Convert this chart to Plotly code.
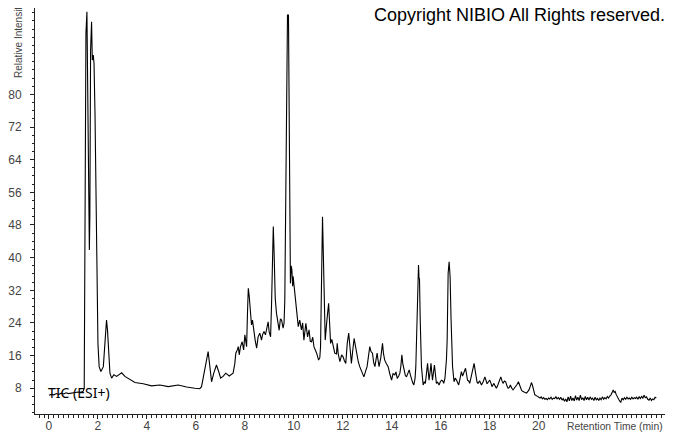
import plotly.graph_objects as go

# Retention time (min) and relative intensity
retention_time = [
    0.0, 0.1, 0.2, 0.3, 0.4, 0.5, 0.6, 0.7, 0.8, 0.9, 1.0, 1.1, 1.2, 1.3, 1.4, 1.44,
    1.47, 1.51, 1.55, 1.59, 1.62, 1.65, 1.67, 1.70, 1.74, 1.77, 1.81, 1.84, 1.88, 1.92,
    1.96, 2.0, 2.05, 2.12, 2.22, 2.30, 2.35, 2.39, 2.44, 2.49, 2.56, 2.65, 2.76, 2.97,
    3.10, 3.28, 3.51, 3.85, 4.19, 4.53, 4.87, 5.28, 5.62, 5.96, 6.16,
    6.23, 6.33, 6.44, 6.50, 6.57, 6.64, 6.73, 6.84, 6.93, 7.01, 7.11, 7.22, 7.36, 7.52,
    7.59, 7.63, 7.69, 7.73, 7.77, 7.82, 7.89, 7.95, 8.0, 8.07, 8.11, 8.14, 8.18, 8.23,
    8.27, 8.31, 8.37, 8.42, 8.48, 8.54, 8.61, 8.68, 8.72, 8.78, 8.84, 8.91, 8.95, 8.99,
    9.05, 9.09, 9.13, 9.16, 9.19, 9.24, 9.29, 9.35, 9.40, 9.45, 9.50, 9.56, 9.60, 9.63,
    9.67, 9.71, 9.74, 9.78, 9.81, 9.84, 9.86, 9.89, 9.92, 9.95, 9.97, 10.04, 10.11,
    10.18, 10.24, 10.31, 10.36, 10.41, 10.49, 10.56, 10.62, 10.67, 10.72, 10.77, 10.82,
    10.88, 10.93, 11.01, 11.06, 11.09, 11.12, 11.14, 11.17, 11.20, 11.22, 11.25, 11.28,
    11.35, 11.42, 11.46, 11.50, 11.55, 11.60, 11.67, 11.74, 11.77, 11.81, 11.85, 11.88,
    11.95, 12.01, 12.06, 12.12, 12.18, 12.24, 12.30, 12.35, 12.40, 12.46, 12.51, 12.56,
    12.63, 12.69, 12.77, 12.86, 12.93, 12.99, 13.05, 13.10, 13.15, 13.21, 13.26, 13.31,
    13.36, 13.40, 13.44, 13.48, 13.55, 13.62, 13.66, 13.71, 13.78, 13.85, 13.92, 13.99,
    14.05, 14.12, 14.17, 14.22, 14.28, 14.33, 14.37, 14.41, 14.45, 14.49, 14.55, 14.60,
    14.66, 14.71, 14.76, 14.80, 14.85, 14.90, 14.95, 14.98, 15.02, 15.05, 15.09, 15.11,
    15.13, 15.16, 15.21, 15.28, 15.33, 15.37, 15.42, 15.46, 15.49, 15.52, 15.56, 15.60,
    15.63, 15.66, 15.70, 15.74, 15.78, 15.82, 15.87, 15.93, 15.98, 16.03, 16.08, 16.12,
    16.17, 16.20, 16.23, 16.26, 16.30, 16.34, 16.36, 16.38, 16.42, 16.45, 16.48, 16.54,
    16.59, 16.64, 16.69, 16.73, 16.79, 16.84, 16.89, 16.94, 17.01, 17.05, 17.09, 17.14,
    17.18, 17.24, 17.29, 17.33, 17.36, 17.40, 17.43, 17.48, 17.52, 17.59, 17.66, 17.73,
    17.80, 17.85, 17.89, 17.95, 18.0, 18.05, 18.09, 18.16, 18.22, 18.27, 18.33, 18.38,
    18.45, 18.50, 18.54, 18.60, 18.65, 18.70, 18.75, 18.80, 18.84, 18.90, 18.95, 19.0,
    19.06, 19.12, 19.17, 19.21, 19.25, 19.30, 19.36, 19.43, 19.50, 19.55, 19.60, 19.66,
    19.70, 19.74, 19.77, 19.84, 19.90, 19.97,
    20.05, 20.1, 20.15, 20.2, 20.25, 20.3, 20.35, 20.4, 20.45, 20.5, 20.55, 20.6, 20.65,
    20.7, 20.75, 20.8, 20.85, 20.9, 20.95, 21.0, 21.05, 21.1, 21.15, 21.2, 21.25, 21.3,
    21.35, 21.4, 21.45, 21.5, 21.55, 21.6, 21.65, 21.7, 21.75, 21.8, 21.85, 21.9, 21.95,
    22.0, 22.05, 22.1, 22.15, 22.2, 22.25, 22.3, 22.35, 22.4, 22.45, 22.5, 22.55, 22.6,
    22.65, 22.7, 22.75, 22.8, 22.85, 22.9, 22.95, 23.0, 23.04, 23.08, 23.12, 23.16, 23.2,
    23.25, 23.3, 23.35, 23.4, 23.45, 23.5, 23.55, 23.6, 23.65, 23.7, 23.75, 23.8, 23.85,
    23.9, 23.95, 24.0, 24.05, 24.1, 24.15, 24.2, 24.25, 24.3, 24.35, 24.4, 24.45, 24.5,
    24.55, 24.6, 24.65, 24.7, 24.75, 24.8,
]
relative_intensity = [
    6.3, 6.5, 6.4, 6.7, 6.5, 6.8, 6.6, 6.9, 6.7, 6.8, 6.9, 7.0, 7.1, 7.0, 7.3, 8.0,
    50.0, 95.0, 100.2, 78.6, 54.1, 41.9, 50.0, 90.9, 97.8, 88.4, 89.6, 87.6, 75.4, 50.9,
    32.9, 19.0, 13.3, 12.1, 13.3, 19.8, 24.7, 22.3, 15.7, 11.7, 10.5, 11.3, 10.9, 11.8,
    10.9, 10.2, 9.4, 9.1, 8.6, 8.8, 8.4, 8.8, 8.3, 8.0, 7.9,
    8.4, 11.7, 14.9, 17.0, 13.3, 9.6, 11.7, 13.7, 12.1, 10.5, 10.9, 11.7, 11.0, 11.7,
    14.1, 16.6, 17.4, 18.2, 16.2, 18.2, 19.4, 17.4, 21.1, 18.2, 27.2, 32.5, 30.4, 27.2,
    23.5, 24.7, 21.5, 19.8, 17.8, 20.6, 21.5, 19.8, 21.1, 21.9, 21.1, 23.9, 24.3, 21.9,
    20.6, 28.8, 45.0, 47.6, 42.0, 30.0, 26.4, 24.0, 22.2, 25.0, 24.7, 22.7, 24.0, 29.6,
    50.0, 79.4, 99.4, 99.4, 67.2, 47.6, 33.7, 38.0, 37.0, 33.0, 35.4, 31.3, 26.4,
    23.1, 24.7, 22.3, 24.0, 19.8, 23.9, 20.6, 22.3, 19.5, 19.4, 20.5, 18.2,
    17.5, 16.6, 14.9, 15.5, 18.2, 35.0, 49.2, 50.0, 42.0, 36.2, 25.0, 19.8,
    24.7, 28.8, 24.0, 19.0, 20.0, 18.2, 16.6, 16.4, 19.0, 16.5, 14.9, 14.5,
    16.2, 15.7, 14.8, 14.1, 19.0, 21.5, 17.5, 14.1, 17.0, 20.2, 18.5, 16.6,
    14.5, 13.3, 12.0, 10.8, 12.2, 13.3, 16.0, 18.2, 17.0, 16.6, 14.3, 13.3,
    15.2, 16.6, 14.8, 13.3, 15.5, 19.0, 16.5, 14.9, 14.0, 13.3, 11.5, 10.0,
    11.6, 11.3, 12.0, 10.4, 11.0, 11.7, 13.5, 16.2, 14.0, 12.9, 11.2, 10.8,
    12.0, 12.5, 11.2, 10.0, 9.4, 8.8, 10.5, 13.3, 25.0, 34.5, 38.2, 35.0,
    34.8, 24.7, 13.3, 8.8, 9.6, 9.2, 11.5, 14.1, 12.0, 10.0, 11.8, 14.1,
    12.0, 10.0, 11.8, 13.7, 11.5, 9.2, 9.5, 8.8, 9.6, 10.0, 9.8, 9.2,
    10.5, 12.5, 15.0, 19.8, 36.2, 39.0, 37.0, 35.4, 24.7, 17.0, 13.3, 9.6,
    10.5, 10.0, 9.5, 8.8, 10.5, 12.1, 11.0, 11.7, 12.9, 11.5, 10.0, 9.8,
    9.2, 10.8, 12.5, 13.0, 14.1, 12.5, 10.8, 9.5, 9.2, 9.8, 8.8, 9.6,
    10.8, 9.8, 9.1, 9.6, 10.0, 9.2, 8.4, 9.2, 8.5, 8.0, 8.8, 9.6,
    10.8, 9.8, 9.2, 9.8, 9.6, 8.6, 8.0, 8.2, 8.8, 8.0, 7.6, 8.0,
    8.4, 9.0, 9.6, 8.8, 8.0, 7.5, 7.2, 7.0, 6.8, 7.2, 7.6, 8.6,
    9.4, 8.8, 8.0, 6.4, 6.2, 6.0,
    5.6, 5.9, 5.4, 5.7, 5.3, 5.5, 5.2, 5.6, 5.4, 5.8, 5.3, 5.6, 5.5,
    5.9, 5.4, 5.7, 5.3, 5.8, 5.1, 5.5, 4.8, 5.4, 4.7, 5.9, 4.9, 6.1,
    5.0, 5.6, 4.9, 6.2, 5.1, 5.8, 5.0, 6.3, 5.2, 5.7, 5.0, 6.0, 5.2,
    5.8, 5.1, 5.9, 5.3, 5.6, 5.0, 5.8, 5.2, 5.5, 5.0, 5.6, 5.2, 5.9,
    5.3, 5.7, 5.4, 6.0, 5.6, 6.1, 6.4, 7.0, 7.6, 7.0, 7.2, 6.5, 6.0,
    5.4, 4.9, 4.6, 5.6, 5.2, 5.7, 5.3, 5.8, 5.4, 5.6, 5.3, 5.8, 5.4,
    5.7, 5.5, 5.8, 5.3, 5.9, 5.5, 6.0, 5.6, 6.3, 5.7, 5.9, 5.3, 5.1,
    5.6, 5.0, 5.4, 5.2, 5.8, 5.6,
]

x_tick_values = [0, 2, 4, 6, 8, 10, 12, 14, 16, 18, 20]
x_tick_labels = ["0", "2", "4", "6", "8", "10", "12", "14", "16", "18", "20"]
y_tick_values = [8, 16, 24, 32, 40, 48, 56, 64, 72, 80]
y_tick_labels = ["8", "16", "24", "32", "40", "48", "56", "64", "72", "80"]

# The page body adds an 8px offset; size the figure so it fits the 673x433 window
OFF = 8
W, H = 673 - OFF, 433 - OFF
L, R, T, B = 27, 2, 0, 19
pw, ph = W - L - R, H - T - B


def px(xw):
    # window pixel x -> paper coordinate
    return (xw - OFF - L) / pw


def py(yw):
    # window pixel y -> paper coordinate
    return (H - B - (yw - OFF)) / ph


axis_font = dict(family="Liberation Sans, Arial, sans-serif", size=12, color="#444444")

fig = go.Figure()
fig.add_trace(go.Scatter(
    x=retention_time, y=relative_intensity, mode="lines",
    line=dict(color="black", width=1.1), showlegend=False, hoverinfo="skip",
))

fig.update_layout(
    template="none",
    width=W, height=H,
    margin=dict(l=L, r=R, t=T, b=B, pad=0, autoexpand=False),
    paper_bgcolor="white", plot_bgcolor="white",
    xaxis=dict(
        automargin=False,
        range=[-0.57, 25.4], showgrid=False, zeroline=False,
        showline=True, linecolor="#222222", linewidth=1,
        ticks="outside", ticklen=4, tickcolor="#222222",
        tickmode="array", tickvals=x_tick_values, ticktext=x_tick_labels,
        tickfont=axis_font, ticklabelstandoff=-3,
        minor=dict(ticks="outside", ticklen=3, tickcolor="#222222",
                   tickmode="linear", tick0=0, dtick=0.2, showgrid=False),
    ),
    yaxis=dict(
        automargin=False,
        range=[1.7, 101.15], showgrid=False, zeroline=False,
        showline=True, linecolor="#222222", linewidth=1,
        ticks="outside", ticklen=4, tickcolor="#222222",
        tickmode="array", tickvals=y_tick_values, ticktext=y_tick_labels,
        tickfont=axis_font, ticklabelstandoff=6,
        minor=dict(ticks="outside", ticklen=2, tickcolor="#222222",
                   tickmode="linear", tick0=0, dtick=2, showgrid=False),
    ),
    annotations=[
        dict(text="Copyright NIBIO All Rights reserved.", xref="paper", yref="paper",
             x=px(519), y=py(15), xanchor="center", yanchor="middle", showarrow=False,
             font=dict(family="Liberation Sans, Arial, sans-serif", size=18, color="black")),
        dict(text="TIC (ESI+)", xref="paper", yref="paper",
             x=px(46), y=py(392), xanchor="left", yanchor="middle", showarrow=False,
             font=dict(family="Noto Sans, sans-serif", size=14, color="black")),
        dict(text="Relative Intensity", xref="paper", yref="paper", textangle=-90,
             x=px(18), y=py(40), xanchor="center", yanchor="middle", showarrow=False,
             font=dict(family="Liberation Sans, Arial, sans-serif", size=10, color="#444444")),
        dict(text="Retention Time (min)", xref="paper", yref="paper",
             x=px(615), y=py(426), xanchor="center", yanchor="middle", showarrow=False,
             font=dict(family="Liberation Sans, Arial, sans-serif", size=10.3, color="#444444")),
    ],
)

fig.write_html("out.html")
